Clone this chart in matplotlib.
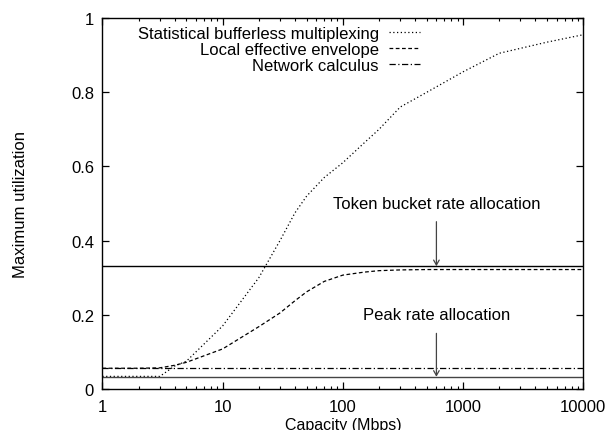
import matplotlib
matplotlib.use("Agg")
import matplotlib.pyplot as plt
import numpy as np

plt.rcParams['font.family'] = ['Liberation Sans', 'DejaVu Sans']

capacity = [1, 2, 3, 4, 5, 10, 20, 30, 40, 50, 70, 100, 150, 200, 300, 500, 1000, 2000, 5000, 10000]
stat_mux = [0.034, 0.034, 0.034, 0.062, 0.075, 0.17, 0.30, 0.40, 0.475, 0.52, 0.57, 0.61, 0.663, 0.70, 0.76, 0.80, 0.855, 0.905, 0.935, 0.955]
local_env = [0.056, 0.056, 0.057, 0.064, 0.072, 0.108, 0.168, 0.205, 0.238, 0.262, 0.29, 0.307, 0.315, 0.319, 0.321, 0.322, 0.322, 0.322, 0.322, 0.322]
net_calc = 0.056
token_bucket = 0.331
peak_rate = 0.033

labels = ["Statistical bufferless multiplexing", "Local effective envelope", "Network calculus"]
x_ticks = [1, 10, 100, 1000, 10000]
x_ticklabels = ["1", "10", "100", "1000", "10000"]
y_ticks = [0, 0.2, 0.4, 0.6, 0.8, 1.0]
y_ticklabels = ["0", "0.2", "0.4", "0.6", "0.8", "1"]

fig = plt.figure(figsize=(6.13, 4.31), dpi=100)
ax = fig.add_axes([0.1670, 0.0951, 0.7846, 0.8608])

ax.plot(capacity, stat_mux, color='black', lw=0.9, ls=(0, (1, 2)), label=labels[0])
ax.plot(capacity, local_env, color='black', lw=0.9, ls=(0, (3, 2)), label=labels[1])
ax.axhline(net_calc, color='black', lw=0.9, ls=(0, (5, 2, 1, 2)), label=labels[2])
ax.axhline(token_bucket, color='black', lw=1.0)
ax.axhline(peak_rate, color='#444444', lw=1.0)

arrow_x = 600
ax.annotate("", xy=(arrow_x, token_bucket), xytext=(arrow_x, 0.451),
            arrowprops=dict(arrowstyle='->,head_length=0.35,head_width=0.2', color='#444444', lw=0.9,
                            shrinkA=0, shrinkB=0))
ax.annotate("", xy=(arrow_x, peak_rate), xytext=(arrow_x, 0.15),
            arrowprops=dict(arrowstyle='->,head_length=0.35,head_width=0.2', color='#444444', lw=0.9,
                            shrinkA=0, shrinkB=0))
ax.text(arrow_x, 0.50, "Token bucket rate allocation", ha='center', va='center', fontsize=12)
ax.text(arrow_x, 0.20, "Peak rate allocation", ha='center', va='center', fontsize=12)

ax.set_xscale('log')
ax.set_xlim(1, 10000)
ax.set_ylim(0, 1)
ax.set_xticks(x_ticks)
ax.set_xticklabels(x_ticklabels)
ax.set_yticks(y_ticks)
ax.set_yticklabels(y_ticklabels)
ax.tick_params(axis='both', which='major', direction='in', top=True, right=True,
               length=5, width=0.9, labelsize=12)
ax.tick_params(axis='x', which='major', pad=7.5)
ax.tick_params(axis='y', which='major', pad=6)
ax.tick_params(axis='x', which='minor', direction='in', top=True, length=2.5, width=0.8)
for s in ax.spines.values():
    s.set_linewidth(1.0)

ax.set_xlabel("Capacity (Mbps)", fontsize=11.5)
ax.set_ylabel("Maximum utilization", fontsize=12)
ax.xaxis.set_label_coords(0.5, -0.076)
ax.yaxis.set_label_coords(-0.154, 0.5)

leg = ax.legend(loc='upper right', bbox_to_anchor=(0.66, 0.978), frameon=False,
                markerfirst=False, fontsize=12, handlelength=1.85, handletextpad=0.6,
                labelspacing=0.05, borderaxespad=0, borderpad=0)

fig.savefig("out.png", dpi=100)
